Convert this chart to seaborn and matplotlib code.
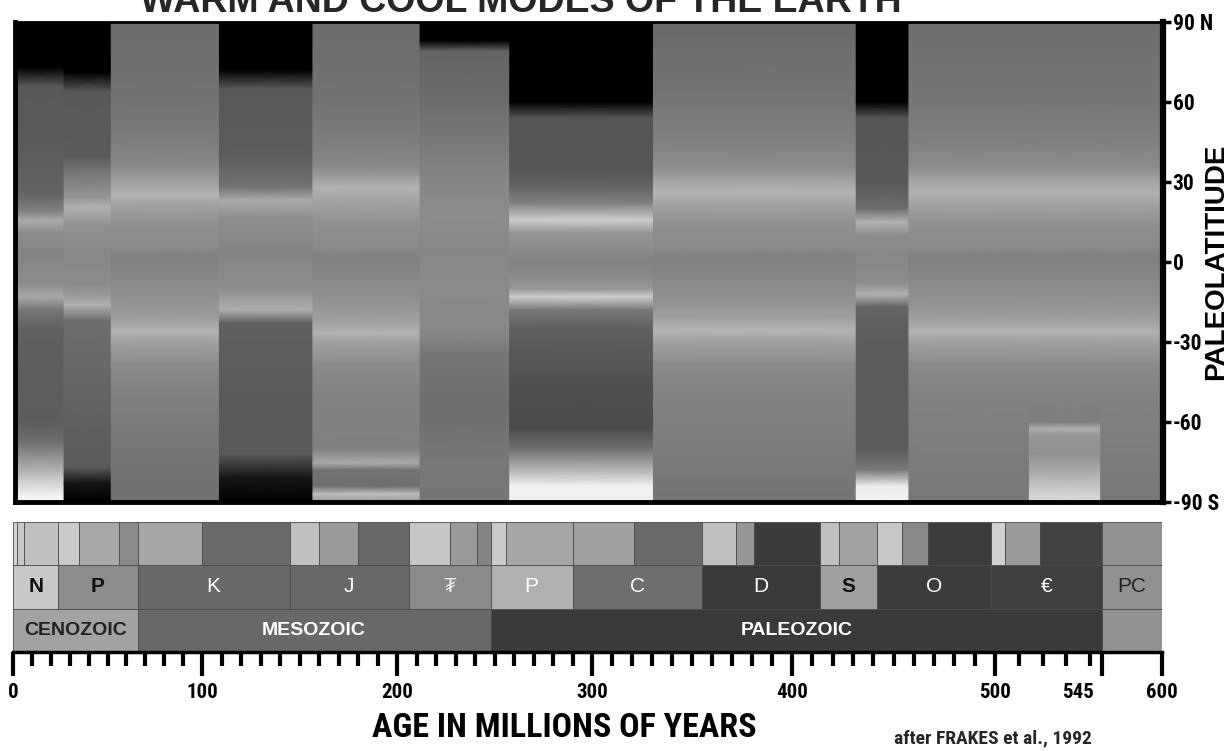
import numpy as np
import matplotlib
matplotlib.use('Agg')
import matplotlib.pyplot as plt
import matplotlib.transforms as mtransforms
from matplotlib import font_manager
import seaborn as sns

# ---------------- data ----------------
# warm / cool blocks of the upper panel (ages in Ma)
block_edges = [0, 26, 51, 108, 156, 211, 257, 330, 431, 457, 514, 544, 600]

# grey level (0 black .. 255 white) along latitude for each block
lat_a = [90, 73, 66, 45, 25, 19, 15.5, 11, 3, -8, -13, -18, -25, -60, -68, -80, -88, -90]
gray_a = [0, 0, 88, 90, 100, 130, 172, 140, 132, 140, 168, 118, 96, 92, 112, 190, 245, 245]
lat_b = [90, 71, 64, 40, 33, 24, 20.5, 14, 3, -8, -12, -16, -22, -50, -77, -83, -90]
gray_b = [0, 0, 88, 90, 120, 150, 178, 145, 135, 140, 150, 178, 110, 100, 90, 20, 0]
lat_c = [90, 60, 45, 35, 29, 25, 21, 15, 5, 2, -5, -15, -22, -26, -30, -38, -50, -65, -90]
gray_c = [108, 115, 125, 140, 165, 178, 160, 145, 138, 128, 135, 145, 160, 178, 160, 140, 128, 120, 112]
lat_d = [90, 72, 65, 40, 28, 23, 17, 5, -10, -18, -23, -50, -72, -81, -90]
gray_d = [0, 0, 88, 92, 115, 172, 142, 132, 140, 175, 96, 90, 90, 20, 0]
lat_e = [90, 60, 45, 35, 31, 28, 22, 15, 5, 2, -5, -15, -22, -26.6, -30, -38, -50, -70, -75.5, -78, -84, -87, -90]
gray_e = [108, 115, 125, 140, 160, 178, 160, 145, 138, 128, 135, 145, 160, 178, 160, 140, 130, 128, 170, 115, 110, 190, 150]
lat_f = [90, 83, 79, 60, 40, 28, 17, 5, -10, -26, -35, -55, -75, -90]
gray_f = [0, 0, 100, 108, 125, 135, 140, 135, 138, 135, 118, 110, 120, 118]
lat_g = [90, 60, 54, 35, 28, 22, 15.7, 11, 5, 0, -6, -10, -13, -18, -25, -45, -62, -70, -80, -84, -90]
gray_g = [0, 0, 85, 85, 100, 130, 205, 150, 140, 130, 140, 150, 205, 120, 95, 80, 75, 110, 200, 240, 240]
lat_h = [90, 60, 45, 35, 30, 26, 21, 15, 5, 2, -5, -15, -21, -25.5, -30, -38, -50, -75, -90]
gray_h = [105, 118, 128, 142, 165, 180, 160, 145, 138, 128, 135, 145, 160, 180, 160, 140, 130, 122, 115]
lat_i = [90, 60, 54, 30, 20, 15, 10, 0, -8, -12, -17, -30, -70, -78, -84, -90]
gray_i = [0, 0, 85, 88, 110, 178, 140, 135, 140, 178, 100, 92, 92, 120, 235, 245]
lat_j = [90, 60, 45, 35, 30, 26, 21, 15, 5, 2, -5, -15, -22, -26, -30, -38, -50, -70, -90]
gray_j = [110, 118, 128, 142, 165, 178, 160, 145, 138, 128, 135, 145, 160, 178, 160, 140, 130, 125, 120]
lat_k = [90, 60, 45, 35, 30, 26, 21, 15, 5, 2, -5, -15, -22, -26, -30, -38, -50, -60, -62.5, -65, -72, -80, -88, -90]
gray_k = [110, 118, 128, 142, 165, 178, 160, 145, 138, 128, 135, 145, 160, 178, 160, 140, 130, 125, 175, 150, 145, 175, 215, 205]
lat_l = lat_j
gray_l = gray_j

# geologic time scale
epoch_edges = [0, 2, 6, 24, 35, 56, 66, 100, 145, 160, 180, 206, 227, 241, 248, 256,
               290, 321, 355, 372, 381, 414, 423, 442, 454, 467, 498, 504, 519, 545, 600]
epoch_grays = [212, 200, 192, 202, 168, 138, 166, 106, 192, 154, 104, 198, 154, 132, 202,
               166, 160, 106, 192, 150, 58, 192, 162, 200, 136, 60, 208, 154, 66, 146]

period_edges = [0, 24, 66, 145, 206, 248, 290, 355, 414, 442, 498, 545, 600]
period_labels = ['N', 'P', 'K', 'J', '\u20ae', 'P', 'C', 'D', 'S', 'O', '\u20ac', 'PC']
period_grays = [200, 140, 104, 104, 138, 176, 110, 58, 160, 60, 64, 146]
period_text = ['#111111', '#111111', 'white', 'white', '#eeeeee', 'white', 'white',
               'white', '#111111', 'white', 'white', '#222222']

era_edges = [0, 66, 248, 545, 600]
era_labels = ['CENOZOIC', 'MESOZOIC', 'PALEOZOIC', '']
era_grays = [162, 104, 58, 146]
era_text = ['#222222', 'white', 'white', 'white']

lat_ticks = [90, 60, 30, 0, -30, -60, -90]
lat_ticklabels = ['90 N', '60', '30', '0', '-30', '-60', '-90 S']
age_ticks = [0, 100, 200, 300, 400, 500, 545, 600]
age_ticklabels = ['0', '100', '200', '300', '400', '500', '545', '600']

# the printed age axis is not uniform: anchor ages and their offsets
scale_ages = [0, 100, 200, 300, 400, 500, 545, 600]
scale_pos = [0, 189, 384, 579, 779, 982, 1089, 1149]

# ---------------- style ----------------
sns.set_theme(style='white', rc={'axes.edgecolor': 'black'})
names = {f.name for f in font_manager.fontManager.ttflist}
narrow = next((n for n in ['Liberation Sans Narrow', 'Arial Narrow', 'Roboto Condensed',
                           'Archivo Narrow', 'Barlow Condensed'] if n in names), 'Liberation Sans')
plt.rcParams['font.family'] = ['Liberation Sans', 'DejaVu Sans']

W, H = 1227, 751


def px_box(l, t, r, b):
    return [l / W, 1 - b / H, (r - l) / W, (b - t) / H]


def fwd(a):
    return np.interp(a, scale_ages, scale_pos)


def inv(p):
    return np.interp(p, scale_pos, scale_ages)


def mid(a0, a1):
    return inv((fwd(a0) + fwd(a1)) / 2)


fig = plt.figure(figsize=(W / 100, H / 100), dpi=100)
ax = fig.add_axes(px_box(15, 22, 1163, 502))
ts = fig.add_axes(px_box(13, 522, 1162, 652))
for a in (ax, ts):
    a.set_xscale('function', functions=(fwd, inv))
    a.set_xlim(0, 600)

# ---------------- upper panel ----------------
profiles = [(lat_a, gray_a), (lat_b, gray_b), (lat_c, gray_c), (lat_d, gray_d),
            (lat_e, gray_e), (lat_f, gray_f), (lat_g, gray_g), (lat_h, gray_h),
            (lat_i, gray_i), (lat_j, gray_j), (lat_k, gray_k), (lat_l, gray_l)]
for i, (lats, grays) in enumerate(profiles):
    lats = np.asarray(lats, float)
    grays = np.asarray(grays, float)
    X = np.column_stack([np.full_like(lats, block_edges[i]), np.full_like(lats, block_edges[i + 1])])
    Y = np.column_stack([lats, lats])
    C = np.column_stack([grays, grays])
    ax.pcolormesh(X, Y, C, shading='gouraud', cmap='gray', vmin=0, vmax=255)

ax.set_ylim(-90, 90)
ax.set_xticks([])
ax.yaxis.tick_right()
ax.yaxis.set_label_position('right')
ax.set_yticks(lat_ticks)
ax.set_yticklabels(lat_ticklabels, fontfamily=narrow, fontweight='bold', fontsize=15.5)
ax.tick_params(axis='y', length=6, width=2.5, pad=1, colors='black', right=True, left=False)
ax.set_ylabel('PALEOLATITIUDE', fontsize=20, fontweight='bold', color='black')
ax.yaxis.set_label_coords(1.0465, 0.5)
ax.yaxis.label.set_verticalalignment('center')
ax.yaxis.label.set_horizontalalignment('center')
for side, lw in [('left', 3.5), ('bottom', 3.5), ('top', 2), ('right', 4.5)]:
    ax.spines[side].set_linewidth(lw)
    ax.spines[side].set_color('black')

# ---------------- time scale ----------------
rows = [(era_edges, era_grays, 0.5), (period_edges, period_grays, 1.5), (epoch_edges, epoch_grays, 2.5)]
for edges, grays, y in rows:
    edges = np.asarray(edges, float)
    ts.barh(y, np.diff(edges), left=edges[:-1], height=1,
            color=[str(g / 255) for g in grays], edgecolor='#4a4a4a', linewidth=0.6)

for a0, a1, lab, col in zip(period_edges[:-1], period_edges[1:], period_labels, period_text):
    bold = col.startswith('#1')
    ts.text(mid(a0, a1), 1.5, lab, ha='center', va='center', color=col,
            fontsize=15, fontweight='bold' if bold else 'normal',
            fontfamily=['Liberation Sans', 'DejaVu Sans'])
for a0, a1, lab, col in zip(era_edges[:-1], era_edges[1:], era_labels, era_text):
    ts.text(mid(a0, a1), 0.5, lab, ha='center', va='center', color=col,
            fontsize=14, fontweight='bold')

ts.set_ylim(0, 3)
ts.set_yticks([])
for side in ('left', 'right', 'top'):
    ts.spines[side].set_visible(False)
ts.spines['bottom'].set_linewidth(2.5)
ts.spines['bottom'].set_color('black')
ts.set_xticks(age_ticks)
ts.set_xticklabels(age_ticklabels, fontfamily=narrow, fontweight='bold', fontsize=15)
ts.set_xticks([t for t in range(10, 545, 10) if t % 100], minor=True)
ts.tick_params(axis='x', which='major', direction='out', length=17, width=3,
               pad=5, bottom=True, colors='black')
ts.tick_params(axis='x', which='minor', direction='out', length=10, width=3,
               bottom=True, colors='black')
lab545 = ts.get_xticklabels()[6]
lab545.set_transform(lab545.get_transform() +
                     mtransforms.ScaledTranslation(-0.24, 0, fig.dpi_scale_trans))

ts.set_xlabel('AGE IN MILLIONS OF YEARS', fontfamily=narrow, fontweight='bold',
              fontsize=24.5, color='black')
ts.xaxis.set_label_coords(0.48, -0.585)
ts.xaxis.label.set_verticalalignment('center')

fig.text(993 / W, 1 - 743 / H, 'after FRAKES et al., 1992', ha='center', va='baseline',
         fontfamily=narrow, fontweight='bold', fontsize=14)
fig.text(521 / W, 1 - 12 / H, 'WARM AND COOL MODES OF THE EARTH', ha='center',
         va='baseline', fontsize=27, fontweight='bold')

fig.savefig('out.png', dpi=100)
